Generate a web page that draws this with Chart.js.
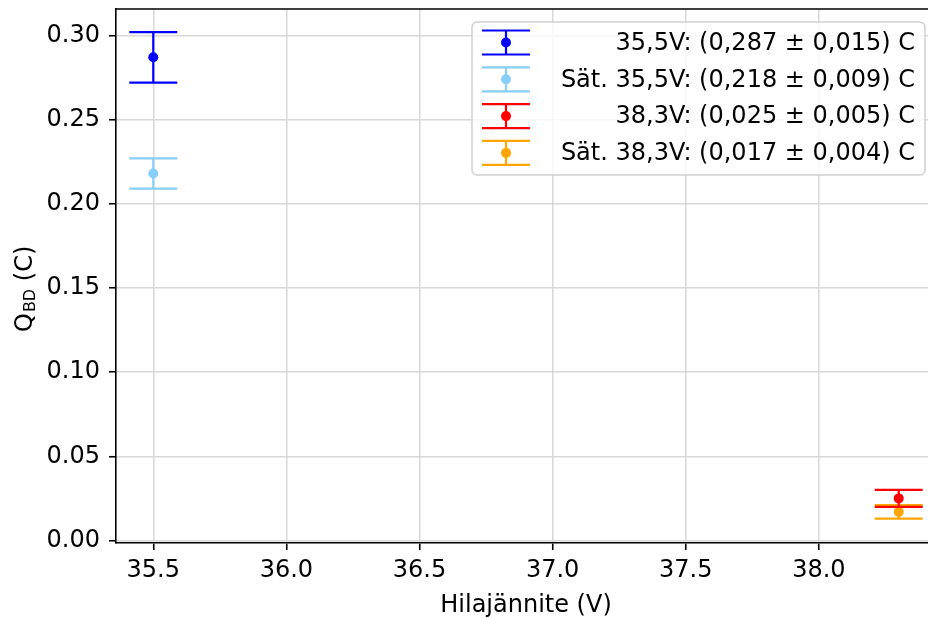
<!DOCTYPE html>
<html>
<head>
<meta charset="utf-8">
<script src="https://cdn.jsdelivr.net/npm/chart.js@4/dist/chart.umd.min.js"></script>
<style>
  html, body { margin: 0; padding: 0; background: #fff; overflow: hidden; }
  #wrap { width: 960px; height: 618px; }
</style>
</head>
<body>
<div id="wrap"><canvas id="qbdChart" width="960" height="618"></canvas></div>
<script>
// Measured breakdown charge per gate voltage
var labels = ['35,5V: (0,287 \u00b1 0,015) C', 'S\u00e4t. 35,5V: (0,218 \u00b1 0,009) C',
              '38,3V: (0,025 \u00b1 0,005) C', 'S\u00e4t. 38,3V: (0,017 \u00b1 0,004) C'];
var voltages = [35.5, 35.5, 38.3, 38.3];
var charges = [0.287, 0.218, 0.025, 0.017];
var errors = [0.015, 0.009, 0.005, 0.004];
var colors = ['#0000ff', '#87cefa', '#ff0000', '#ffa500'];

var xTicks = [35.5, 36.0, 36.5, 37.0, 37.5, 38.0];
var yTicks = [0.00, 0.05, 0.10, 0.15, 0.20, 0.25, 0.30];

var FONT = 'DejaVu Sans';
var CAP = 24; // half width of the error bar caps

function drawErrorBar(ctx, cx, yTop, yBot, color, cap) {
    ctx.save();
    ctx.strokeStyle = color;
    ctx.lineWidth = 2.2;
    ctx.beginPath();
    ctx.moveTo(cx, yTop); ctx.lineTo(cx, yBot);
    ctx.moveTo(cx - cap, yTop); ctx.lineTo(cx + cap, yTop);
    ctx.moveTo(cx - cap, yBot); ctx.lineTo(cx + cap, yBot);
    ctx.stroke();
    ctx.restore();
}

// error bars, drawn just before each point so later series sit on top
var errorBars = {
    id: 'errorBars',
    beforeDatasetDraw: function(chart, args) {
        var i = args.index;
        var xs = chart.scales.x, ys = chart.scales.y;
        var cx = xs.getPixelForValue(voltages[i]);
        var yTop = ys.getPixelForValue(charges[i] + errors[i]);
        var yBot = ys.getPixelForValue(charges[i] - errors[i]);
        drawErrorBar(chart.ctx, cx, yTop, yBot, colors[i], CAP);
    }
};

// top spine, axis titles and the legend box
var decorations = {
    id: 'decorations',
    afterDraw: function(chart) {
        var ctx = chart.ctx, ca = chart.chartArea;
        ctx.save();
        ctx.strokeStyle = '#000';
        ctx.lineWidth = 1.6;
        ctx.beginPath();
        ctx.moveTo(ca.left, ca.top); ctx.lineTo(ca.right, ca.top);
        ctx.lineTo(ca.right, ca.bottom);
        ctx.stroke();

        // x title
        ctx.fillStyle = '#000';
        ctx.font = '24px "' + FONT + '"';
        ctx.textAlign = 'center';
        ctx.textBaseline = 'alphabetic';
        ctx.fillText('Hilaj\u00e4nnite (V)', (ca.left + ca.right) / 2, 612);

        // y title with subscript
        ctx.save();
        ctx.translate(32, 332);
        ctx.rotate(-Math.PI / 2);
        ctx.textAlign = 'left';
        ctx.font = '24px "' + FONT + '"';
        ctx.fillText('Q', 0, 0);
        var w = ctx.measureText('Q').width;
        ctx.font = '16px "' + FONT + '"';
        ctx.fillText('BD', w + 1, 3);
        w += 1 + ctx.measureText('BD').width;
        ctx.font = '24px "' + FONT + '"';
        ctx.fillText(' (C)', w, 0);
        ctx.restore();

        // legend
        var right = ca.right - 11, top = ca.top + 13;
        var left = right - 453, height = 153;
        ctx.beginPath();
        ctx.roundRect(left, top, right - left, height, 5);
        ctx.fillStyle = 'rgba(255,255,255,0.8)';
        ctx.fill();
        ctx.strokeStyle = '#d0d0d0';
        ctx.lineWidth = 1.5;
        ctx.stroke();

        for (var i = 0; i < labels.length; i++) {
            var cy = top + 20.5 + i * 36.8;
            var ix = left + 34;
            drawErrorBar(ctx, ix, cy - 12, cy + 12, colors[i], 24);
            ctx.beginPath();
            ctx.arc(ix, cy, 5, 0, Math.PI * 2);
            ctx.fillStyle = colors[i];
            ctx.fill();
            ctx.fillStyle = '#000';
            ctx.font = '24px "' + FONT + '"';
            ctx.textAlign = 'right';
            ctx.textBaseline = 'middle';
            ctx.fillText(labels[i], right - 10, cy + 1);
        }
        ctx.restore();
    }
};

var datasets = labels.map(function(lbl, i) {
    return {
        label: lbl,
        data: [{ x: voltages[i], y: charges[i] }],
        backgroundColor: colors[i],
        borderColor: colors[i],
        borderWidth: 0,
        pointRadius: 5,
        showLine: false
    };
});

var gridOpts = {
    color: '#d8d8d8',
    lineWidth: 1.5,
    tickColor: '#000',
    tickLength: 7,
    tickWidth: 1.6,
    drawTicks: true
};

var ctx = document.getElementById('qbdChart').getContext('2d');
var qbdChart = new Chart(ctx, {
    type: 'scatter',
    data: { datasets: datasets },
    plugins: [errorBars, decorations],
    options: {
        responsive: false,
        animation: false,
        layout: { padding: { top: 9, right: 24, left: 0, bottom: 0 } },
        plugins: { legend: { display: false }, tooltip: { enabled: false } },
        scales: {
            x: {
                type: 'linear',
                min: 35.36,
                max: 38.44,
                afterBuildTicks: function(scale) {
                    scale.ticks = xTicks.map(function(v) { return { value: v }; });
                },
                afterFit: function(scale) {
                    scale.height = 75;
                    scale.paddingLeft = 0;
                    scale.paddingRight = 0;
                },
                ticks: {
                    color: '#000',
                    font: { family: FONT, size: 24 },
                    padding: 6,
                    maxRotation: 0,
                    callback: function(v) { return v.toFixed(1); }
                },
                grid: gridOpts,
                border: { color: '#000', width: 1.6 }
            },
            y: {
                min: -0.0015,
                max: 0.3157,
                afterBuildTicks: function(scale) {
                    scale.ticks = yTicks.map(function(v) { return { value: v }; });
                },
                afterFit: function(scale) {
                    scale.width = 116;
                    scale.paddingTop = 0;
                    scale.paddingBottom = 0;
                },
                ticks: {
                    color: '#000',
                    font: { family: FONT, size: 24 },
                    padding: 9,
                    callback: function(v) { return v.toFixed(2); }
                },
                grid: gridOpts,
                border: { color: '#000', width: 1.6 }
            }
        }
    }
});
</script>
</body>
</html>
